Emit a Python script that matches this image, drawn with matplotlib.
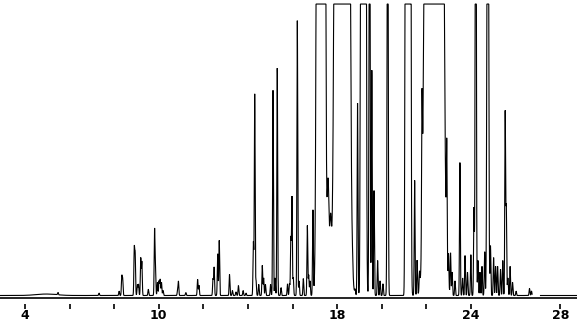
import numpy as np
import matplotlib
matplotlib.use("Agg")
import matplotlib.pyplot as plt
import matplotlib.transforms as mtransforms

# ---- data (retention time in min, height in % of full scale) ----
minor_rt = [5.48, 7.32, 8.22, 8.34, 8.38, 8.90, 8.94, 9.04, 9.09, 9.19, 9.24, 9.53,
            9.81, 9.85, 9.94, 10.01, 10.06, 10.12, 10.19, 10.84, 10.88, 11.21, 11.74,
            11.80, 12.43, 12.48, 12.64, 12.71, 13.17, 13.30, 13.46, 13.57, 13.78, 13.91,
            14.24, 14.30, 14.36, 14.48, 14.64, 14.70, 14.78, 15.01, 15.12, 15.21, 15.31,
            15.48, 15.77, 15.86, 15.92, 15.97, 16.03, 16.21, 16.29, 16.48, 16.66, 16.72,
            16.78, 16.91, 18.51, 18.69, 18.80, 18.91, 19.04, 19.55, 19.65, 19.81, 19.92,
            20.05, 21.47, 21.58, 21.69, 21.80, 22.91, 22.99, 23.08, 23.15, 23.28, 23.50,
            23.62, 23.73, 23.84, 23.99, 24.13, 24.31, 24.40, 24.49, 24.61, 24.87, 25.01,
            25.10, 25.19, 25.32, 25.42, 25.53, 25.58, 25.65, 25.75, 25.86, 26.02, 26.62,
            26.71]
minor_h = [0.8, 0.8, 1.5, 6.5, 5.5, 15.8, 13.7, 3.7, 3.8, 12.8, 11.5, 2.1,
           22.3, 9.3, 4.5, 5.0, 5.5, 4.5, 1.7, 1.5, 4.8, 1.0, 5.5,
           3.5, 5.7, 9.7, 14.3, 18.9, 7.2, 1.7, 1.2, 3.4, 1.7, 0.8,
           18.3, 69.1, 5.0, 3.8, 10.3, 6.0, 3.8, 3.8, 70.4, 6.0, 78.0,
           2.7, 4.0, 4.0, 19.6, 33.7, 6.0, 94.3, 5.0, 5.8, 24.0, 7.0,
           5.0, 29.2, 5.0, 2.0, 1.7, 66.0, 30.0, 77.3, 36.0, 12.0, 5.0,
           4.0, 39.5, 12.0, 6.0, 45.0, 40.0, 12.0, 14.4, 8.0, 5.0, 45.6,
           6.0, 13.7, 8.0, 14.0, 30.0, 12.0, 8.0, 10.0, 15.0, 17.0, 13.0,
           10.0, 10.0, 9.0, 12.0, 62.9, 30.0, 6.0, 10.0, 4.5, 1.5, 2.4,
           1.5]

major_rt = [4.95, 17.27, 17.59, 17.70, 18.22, 19.15, 19.22, 19.45, 20.26, 21.06, 21.19,
            21.26, 22.34, 24.21, 24.75]
major_h = [0.5, 5000, 38, 24, 5000, 2000, 1500, 200, 200, 200, 1500, 400, 5000, 250, 300]
major_w = [0.45, 0.08, 0.04, 0.04, 0.136, 0.045, 0.04, 0.022, 0.022, 0.022, 0.045,
           0.03, 0.166, 0.022, 0.03]

tick_pos = [4, 6, 8, 10, 12, 14, 16, 18, 20, 22, 24, 28]
label_pos = [4, 10, 18, 24, 28]
label_txt = ["4", "10", "18", "24", "28"]

run_segments = [(2.88, 26.74), (27.07, 28.75)]
full_scale = 100.0
narrow_sigma = 0.018

# ---- figure ----
W, H = 577, 326
fig = plt.figure(figsize=(W / 100, H / 100), dpi=100)
ax_bottom_px, ax_top_px = 298, 2
ax = fig.add_axes([0, (H - ax_bottom_px) / H, 1, (ax_bottom_px - ax_top_px) / H])

pk_rt = np.array(minor_rt + major_rt)
pk_h = np.array(minor_h + major_h)
pk_w = np.array([narrow_sigma] * len(minor_rt) + major_w)

for t0, t1 in run_segments:
    t = np.arange(t0, t1, 0.002)
    sig = np.zeros_like(t)
    for rt, h, w in zip(pk_rt, pk_h, pk_w):
        m = np.abs(t - rt) < 8 * w
        sig[m] += h * np.exp(-0.5 * ((t[m] - rt) / w) ** 2)
    sig = np.minimum(sig, full_scale)
    ax.plot(t, sig, color="black", lw=0.8, solid_joinstyle="miter")

ax.set_xlim(2.88, 28.75)
ax.set_ylim(-0.86, 100.7)
for s in ["top", "right", "left"]:
    ax.spines[s].set_visible(False)
ax.spines["bottom"].set_linewidth(1.2)
ax.spines["bottom"].set_color("black")
ax.set_yticks([])
ax.set_xticks([])

trans = mtransforms.blended_transform_factory(ax.transData, ax.transAxes)
axh = ax_bottom_px - ax_top_px
ax.vlines(tick_pos, -(304 - ax_bottom_px) / axh, -(309 - ax_bottom_px) / axh,
          transform=trans, color="black", lw=1.2, clip_on=False)
for p, s in zip(label_pos, label_txt):
    ax.text(p, -(315.5 - ax_bottom_px) / axh, s, transform=trans, ha="center", va="center",
            fontsize=9, fontweight="bold", family="DejaVu Sans", color="black")

fig.savefig("out.png", dpi=100, facecolor="white")
